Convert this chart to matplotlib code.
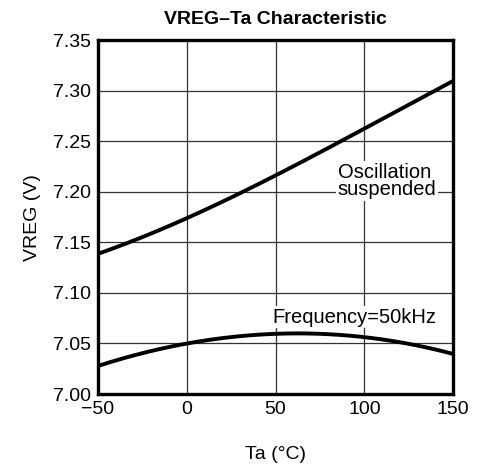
import numpy as np
import matplotlib
matplotlib.use("Agg")
import matplotlib.pyplot as plt

plt.rcParams['font.family'] = ['Liberation Sans', 'DejaVu Sans']

# Ta (deg C) and VREG (V)
ta = [-50, -25, 0, 25, 50, 75, 100, 125, 150]
vreg_osc_off = [7.139, 7.155, 7.173, 7.195, 7.217, 7.239, 7.262, 7.286, 7.310]
vreg_50khz = [7.028, 7.040, 7.050, 7.056, 7.060, 7.060, 7.056, 7.049, 7.040]

x_ticks = [-50, 0, 50, 100, 150]
x_ticklabels = ["\u221250", "0", "50", "100", "150"]
y_ticks = [7.00, 7.05, 7.10, 7.15, 7.20, 7.25, 7.30, 7.35]

fig = plt.figure(figsize=(4.78, 4.73), dpi=100)
ax = fig.add_axes([0.205, 0.167, 0.743, 0.748])

# smooth the read points a little for drawing
xs = np.linspace(-50, 150, 200)
for ys in (vreg_osc_off, vreg_50khz):
    c = np.polyfit(ta, ys, 3)
    ax.plot(xs, np.polyval(c, xs), color="black", lw=2.8, zorder=3, solid_capstyle="butt")

ax.set_xlim(-50, 150)
ax.set_ylim(7.00, 7.35)
ax.set_xticks(x_ticks)
ax.set_xticklabels(x_ticklabels)
ax.set_yticks(y_ticks)
ax.set_yticklabels([f"{v:.2f}" for v in y_ticks])
ax.tick_params(length=0, labelsize=14, pad=5)
ax.grid(True, color="#333333", lw=0.9)
for s in ax.spines.values():
    s.set_linewidth(2.4)
    s.set_zorder(4)

ax.set_title("VREG\u2013Ta Characteristic", fontsize=14, fontweight="bold", pad=12)
ax.set_xlabel("Ta (\u00b0C)", fontsize=14, labelpad=20)
ax.set_ylabel("VREG (V)", fontsize=14, labelpad=9)

box = dict(facecolor="white", edgecolor="none", pad=1)
ax.text(85, 7.2106, "Oscillation\nsuspended", fontsize=14.5, ha="left", va="center",
        linespacing=0.9, bbox=box, zorder=2)
ax.text(48, 7.076, "Frequency=50kHz", fontsize=14.5, ha="left", va="center",
        bbox=box, zorder=2)

fig.savefig("out.png", dpi=100)
